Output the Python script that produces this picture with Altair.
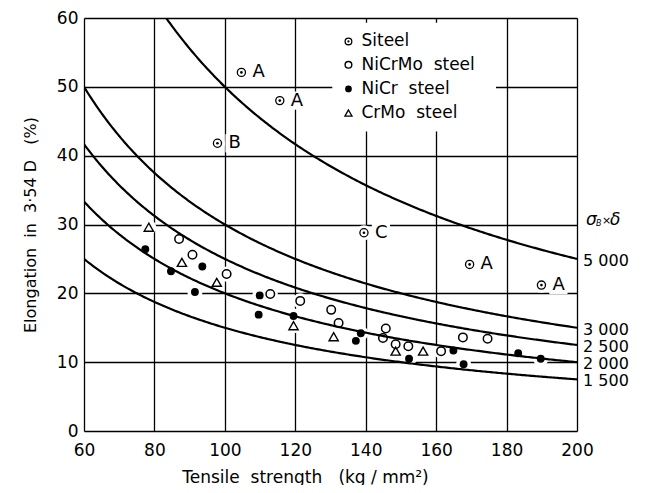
import altair as alt
import pandas as pd

# ---------------- data ----------------
# Si steel (special specimens), with their letter labels
si_x = [104.7, 115.6, 97.9, 139.5, 169.5, 189.9]
si_y = [52.1, 48.0, 41.8, 28.8, 24.2, 21.2]
si_lab = ["A", "A", "B", "C", "A", "A"]

# NiCrMo steel (open circles)
nicrmo_x = [87.0, 90.8, 100.5, 112.9, 121.4, 130.2, 132.3, 145.7, 144.9, 148.5, 152.1, 161.4, 167.6, 174.6]
nicrmo_y = [27.9, 25.6, 22.8, 19.9, 18.9, 17.6, 15.7, 14.9, 13.5, 12.6, 12.3, 11.6, 13.6, 13.4]

# NiCr steel (filled circles)
nicr_x = [77.4, 84.7, 93.6, 91.5, 109.9, 109.6, 119.5, 138.6, 137.2, 152.3, 164.9, 167.8, 183.3, 189.7]
nicr_y = [26.4, 23.2, 23.9, 20.2, 19.7, 16.9, 16.7, 14.2, 13.1, 10.5, 11.7, 9.7, 11.3, 10.5]

# CrMo steel (open triangles)
crmo_x = [78.4, 87.8, 97.7, 119.5, 130.9, 148.5, 156.3]
crmo_y = [29.6, 24.5, 21.6, 15.3, 13.7, 11.6, 11.6]

# constant-product curves  sigma_B x delta = K
curve_k = [1500, 2000, 2500, 3000, 5000]
curve_lab = ["1 500", "2 000", "2 500", "3 000", "5 000"]

x_ticks = [60, 80, 100, 120, 140, 160, 180, 200]
y_ticks = [0, 10, 20, 30, 40, 50, 60]

NB = "\u00a0"
legend_names = ["Siteel", "NiCrMo" + NB + " steel", "NiCr" + NB + " steel", "CrMo" + NB + " steel"]
legend_y = [56.6, 53.2, 49.7, 46.2]
legend_x = 135.1

FONT = "DejaVu Sans"

# ---------------- shared encodings ----------------
xscale = alt.Scale(domain=[60, 200], nice=False, zero=False)
yscale = alt.Scale(domain=[0, 60], nice=False, zero=False)

xaxis = alt.Axis(values=x_ticks, title="Tensile" + NB + " strength" + NB + NB + " (kg / mm²)",
                 grid=True, ticks=False,
                 domain=False, labelFontSize=17, labelPadding=11, labelFlush=False,
                 gridColor="black", gridWidth=1.3, gridOpacity=1, labelColor="black",
                 titleColor="black", titleFontSize=17, titleFontWeight="normal",
                 titleX=221, titleY=46, titleBaseline="middle")
yaxis = alt.Axis(values=y_ticks, title="Elongation" + NB + " in" + NB + " 3·54 D" + NB + NB + " (%)",
                 grid=True, ticks=False,
                 domain=False, labelFontSize=17, labelPadding=6, labelFlush=False,
                 gridColor="black", gridWidth=1.3, gridOpacity=1, labelColor="black",
                 titleColor="black", titleFontSize=16, titleFontWeight="normal",
                 titlePadding=18)


def X(f="x"):
    return alt.X(f"{f}:Q", scale=xscale, axis=xaxis)


def Y(f="y"):
    return alt.Y(f"{f}:Q", scale=yscale, axis=yaxis)


# ---------------- tables ----------------
si_df = pd.DataFrame({"x": si_x, "y": si_y, "lab": si_lab})
nicrmo_df = pd.DataFrame({"x": nicrmo_x, "y": nicrmo_y})
nicr_df = pd.DataFrame({"x": nicr_x, "y": nicr_y})
crmo_df = pd.DataFrame({"x": crmo_x, "y": crmo_y})
all_pts = pd.concat([si_df[["x", "y"]], nicrmo_df, nicr_df, crmo_df], ignore_index=True)

rows = []
for k in curve_k:
    xs = [60 + 0.5 * i for i in range(281)]
    for xv in xs:
        rows.append({"k": k, "x": xv, "y": k / xv})
curve_df = pd.DataFrame(rows)
curve_df = curve_df[curve_df["y"] <= 61]

end_df = pd.DataFrame({"x": [200] * len(curve_k), "y": [k / 200 for k in curve_k], "lab": curve_lab})

leg_df = pd.DataFrame({"x": [legend_x] * 4, "y": legend_y, "name": legend_names})
mask_df = pd.DataFrame({"x": [130.5], "x2": [177.0], "y": [43.5], "y2": [59.3]})
sig_df = pd.DataFrame({"x": [200], "y": [30.6]})

# ---------------- layers ----------------
mask = alt.Chart(mask_df).mark_rect(color="white").encode(
    x=X(), x2="x2:Q", y=Y(), y2="y2:Q")

halo = alt.Chart(all_pts).mark_circle(color="white", opacity=1, size=230).encode(x=X(), y=Y())
lab_halo = alt.Chart(si_df).mark_square(color="white", opacity=1, size=330, xOffset=17).encode(x=X(), y=Y())

curves = alt.Chart(curve_df).mark_line(color="black", strokeWidth=2.2, clip=True).encode(
    x=X(), y=Y(), detail="k:N")

p_nicrmo = alt.Chart(nicrmo_df).mark_point(shape="circle", filled=False, color="black",
                                           strokeWidth=1.5, size=72, opacity=1).encode(x=X(), y=Y())
p_nicr = alt.Chart(nicr_df).mark_point(shape="circle", filled=True, color="black",
                                       size=62, opacity=1).encode(x=X(), y=Y())
p_crmo = alt.Chart(crmo_df).mark_point(shape="triangle-up", filled=False, color="black",
                                       strokeWidth=1.4, size=85, opacity=1).encode(x=X(), y=Y())
p_si = alt.Chart(si_df).mark_point(shape="circle", filled=False, color="black",
                                   strokeWidth=1.3, size=66, opacity=1).encode(x=X(), y=Y())
p_si_dot = alt.Chart(si_df).mark_point(shape="circle", filled=True, color="black",
                                       size=7, opacity=1).encode(x=X(), y=Y())
si_text = alt.Chart(si_df).mark_text(align="left", baseline="middle", dx=11, fontSize=18,
                                     font=FONT, color="black").encode(x=X(), y=Y(), text="lab:N")

end_text = alt.Chart(end_df).mark_text(align="left", baseline="middle", dx=6, dy=2, fontSize=16,
                                       font=FONT, color="black").encode(x=X(), y=Y(), text="lab:N")

sig1 = alt.Chart(sig_df).mark_text(text="σ", align="left", baseline="middle", dx=9, fontSize=17,
                                   fontStyle="italic", font=FONT, color="black").encode(x=X(), y=Y())
sig2 = alt.Chart(sig_df).mark_text(text="B", align="left", baseline="middle", dx=19, dy=4, fontSize=8,
                                   fontStyle="italic", font=FONT, color="black").encode(x=X(), y=Y())
sig3 = alt.Chart(sig_df).mark_text(text="×", align="left", baseline="middle", dx=25, dy=1, fontSize=11,
                                   font=FONT, color="black").encode(x=X(), y=Y())
sig4 = alt.Chart(sig_df).mark_text(text="δ", align="left", baseline="middle", dx=33, fontSize=17,
                                   fontStyle="italic", font=FONT, color="black").encode(x=X(), y=Y())

leg_si = alt.Chart(leg_df.iloc[[0]]).mark_point(shape="circle", filled=False, color="black",
                                               strokeWidth=1.3, size=45, opacity=1).encode(x=X(), y=Y())
leg_si_dot = alt.Chart(leg_df.iloc[[0]]).mark_point(shape="circle", filled=True, color="black",
                                                   size=5, opacity=1).encode(x=X(), y=Y())
leg_nicrmo = alt.Chart(leg_df.iloc[[1]]).mark_point(shape="circle", filled=False, color="black",
                                                   strokeWidth=1.4, size=45, opacity=1).encode(x=X(), y=Y())
leg_nicr = alt.Chart(leg_df.iloc[[2]]).mark_point(shape="circle", filled=True, color="black",
                                                 size=45, opacity=1).encode(x=X(), y=Y())
leg_crmo = alt.Chart(leg_df.iloc[[3]]).mark_point(shape="triangle-up", filled=False, color="black",
                                                 strokeWidth=1.3, size=50, opacity=1).encode(x=X(), y=Y())
leg_text = alt.Chart(leg_df).mark_text(align="left", baseline="middle", dx=13, fontSize=17,
                                       font=FONT, color="black").encode(x=X(), y=Y(), text="name:N")

chart = alt.layer(
    mask, halo, lab_halo, curves, p_nicrmo, p_nicr, p_crmo, p_si, p_si_dot, si_text,
    end_text, sig1, sig2, sig3, sig4,
    leg_si, leg_si_dot, leg_nicrmo, leg_nicr, leg_crmo, leg_text,
).properties(
    width=493, height=413,
    padding={"left": 76, "top": 10, "right": 60, "bottom": 54},
    autosize=alt.AutoSizeParams(type="none"),
    background="white",
).configure_view(
    stroke="black", strokeWidth=2
).configure(font=FONT)

chart.save("out.html", embed_options={"renderer": "svg", "actions": False})
